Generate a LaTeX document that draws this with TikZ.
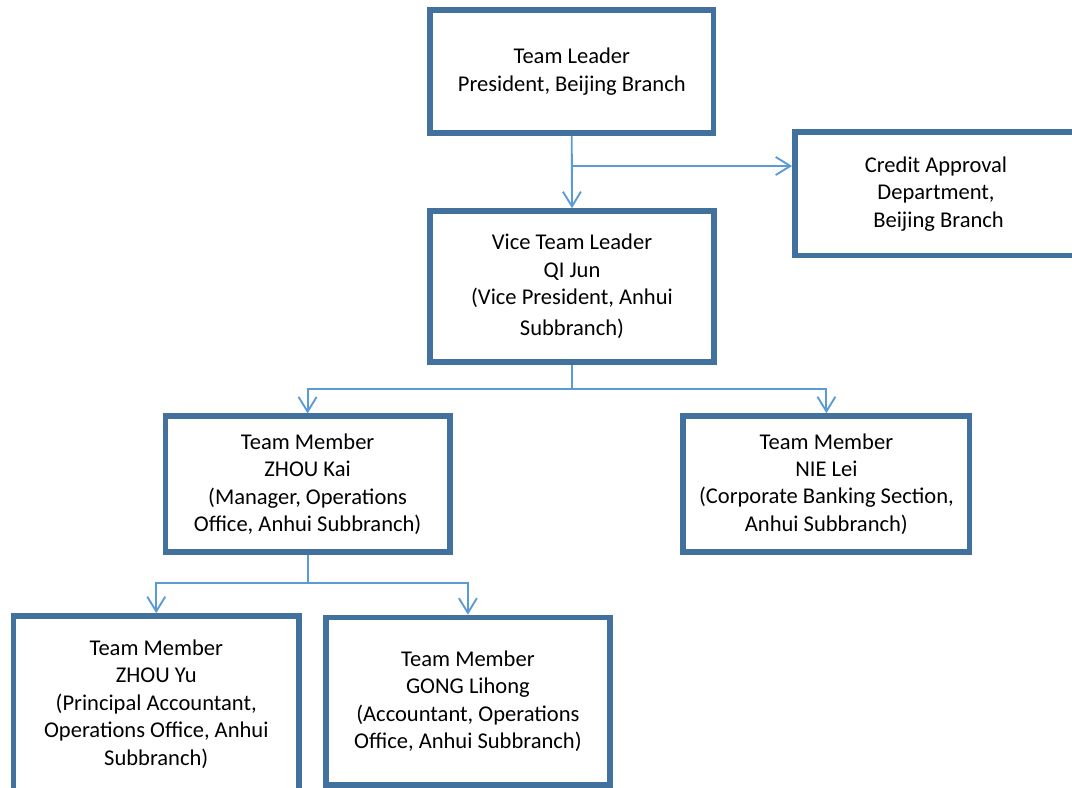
\documentclass[tikz,border=0pt]{standalone}
\usepackage{fontspec}
\setmainfont{Carlito}
\usetikzlibrary{arrows.meta}
\definecolor{boxblue}{RGB}{65,113,156}
\definecolor{linkblue}{RGB}{91,155,213}
\begin{document}
\begin{tikzpicture}[x=0.75pt,y=-0.75pt,
  orgbox/.style={draw=boxblue, line width=4.3pt, inner sep=0pt, align=center,
    font=\fontsize{16.9pt}{20.6pt}\selectfont, fill=white},
  link/.style={draw=linkblue, line width=1.4pt},
  linkarrow/.style={link, -{Straight Barb[length=11pt,width=13.5pt]}}
]
\useasboundingbox (0,0) rectangle (1072,788);
\fill[white] (0,0) rectangle (1072,788);
\clip (0,0) rectangle (1072,788);

\node[orgbox, minimum width=283.5*0.75pt, minimum height=123*0.75pt] (lead) at (571.75,71.5)
  {Team Leader\\President, Beijing Branch};
\node[orgbox, minimum width=282*0.75pt, minimum height=123.5*0.75pt] (credit) at (936,193.75)
  {Credit Approval\\Department,\\\ Beijing Branch};
\node[orgbox, minimum width=283.5*0.75pt, minimum height=151*0.75pt] (vice) at (572,286.5)
  {Vice Team Leader\\QI Jun\\(Vice President, Anhui\\[2.5pt]Subbranch)};
\node[orgbox, minimum width=284.2*0.75pt, minimum height=135.7*0.75pt] (kai) at (307.6,484.15)
  {Team Member\\ZHOU Kai\\(Manager, Operations\\Office, Anhui Subbranch)};
\node[orgbox, minimum width=286.2*0.75pt, minimum height=136*0.75pt] (nie) at (826.4,484)
  {Team Member\\NIE Lei\\(Corporate Banking Section,\\Anhui Subbranch)};
\node[orgbox, minimum width=285.5*0.75pt, minimum height=176*0.75pt] (yu) at (156.25,704)
  {Team Member\\ZHOU Yu\\(Principal Accountant,\\Operations Office, Anhui\\Subbranch)};
\node[orgbox, minimum width=284.2*0.75pt, minimum height=167.5*0.75pt] (gong) at (467.9,701.25)
  {Team Member\\GONG Lihong\\(Accountant, Operations\\Office, Anhui Subbranch)};

\coordinate (y1) at (0,166);
\coordinate (y2) at (0,389);
\coordinate (y3) at (0,583);
\coordinate (j1) at (lead.south |- y1);

\draw[linkarrow] (lead.south) -- (vice.north);
\draw[linkarrow] (j1) -- (credit.west |- j1);

\draw[linkarrow] (vice.south) -- (vice.south |- y2) -| (kai.north);
\draw[linkarrow] (vice.south |- y2) -| (nie.north);

\draw[linkarrow] (kai.south) -- (kai.south |- y3) -| (yu.north);
\draw[linkarrow] (kai.south |- y3) -| (gong.north);
\end{tikzpicture}
\end{document}
